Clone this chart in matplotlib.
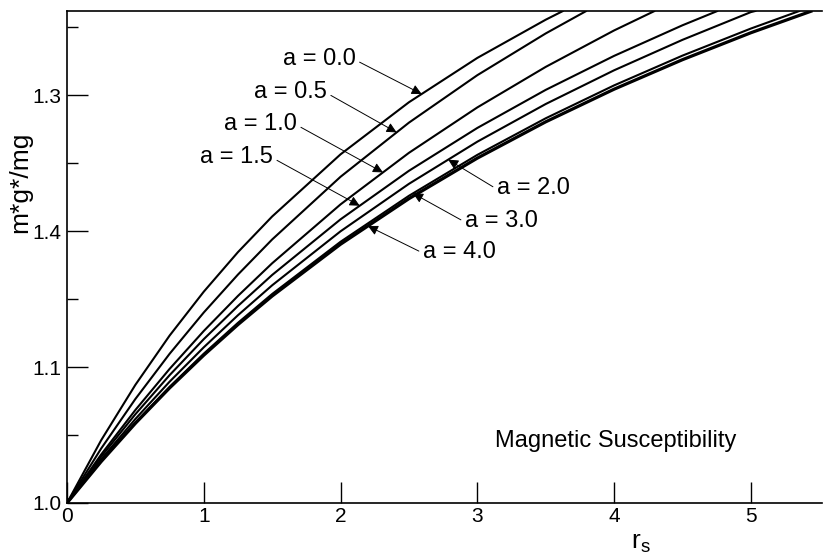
import numpy as np
import matplotlib
matplotlib.use("Agg")
import matplotlib.pyplot as plt
from matplotlib.ticker import MultipleLocator, FixedLocator, FixedFormatter

plt.rcParams['font.family'] = ['Liberation Sans', 'DejaVu Sans']
plt.rcParams['mathtext.default'] = 'regular'

# ---- data (r_s, m*g*/mg) ----
r_a00 = [0, 0.25, 0.5, 0.75, 1.0, 1.25, 1.5, 2.0, 2.5, 3.0, 3.5, 3.63]
m_a00 = [1.0, 1.0462, 1.0869, 1.1231, 1.1554, 1.1845, 1.2107, 1.2564, 1.2947, 1.3273, 1.3554, 1.362]

r_a05 = [0, 0.25, 0.5, 0.75, 1.0, 1.25, 1.5, 2.0, 2.5, 3.0, 3.5, 3.80]
m_a05 = [1.0, 1.0401, 1.0765, 1.1097, 1.1401, 1.1680, 1.1938, 1.2399, 1.2797, 1.3146, 1.3453, 1.362]

r_a10 = [0, 0.25, 0.5, 0.75, 1.0, 1.25, 1.5, 2.0, 2.5, 3.0, 3.5, 4.0, 4.30]
m_a10 = [1.0, 1.0357, 1.0684, 1.0986, 1.1265, 1.1523, 1.1763, 1.2196, 1.2575, 1.2909, 1.3207, 1.3475, 1.362]

r_a15 = [0, 0.25, 0.5, 0.75, 1.0, 1.25, 1.5, 2.0, 2.5, 3.0, 3.5, 4.0, 4.5, 4.76]
m_a15 = [1.0, 1.0341, 1.0653, 1.0940, 1.1205, 1.1449, 1.1677, 1.2086, 1.2443, 1.2758, 1.3038, 1.3288, 1.3513, 1.362]

r_a20 = [0, 0.25, 0.5, 0.75, 1.0, 1.25, 1.5, 2.0, 2.5, 3.0, 3.5, 4.0, 4.5, 5.0, 5.04]
m_a20 = [1.0, 1.0322, 1.0618, 1.0892, 1.1145, 1.1381, 1.1601, 1.1998, 1.2347, 1.2657, 1.2934, 1.3182, 1.3406, 1.3610, 1.362]

r_a30 = [0, 0.25, 0.5, 0.75, 1.0, 1.25, 1.5, 2.0, 2.5, 3.0, 3.5, 4.0, 4.5, 5.0, 5.36]
m_a30 = [1.0, 1.0308, 1.0592, 1.0854, 1.1098, 1.1325, 1.1537, 1.1921, 1.2259, 1.2560, 1.2829, 1.3071, 1.3290, 1.3489, 1.362]

r_a40 = [0, 0.25, 0.5, 0.75, 1.0, 1.25, 1.5, 2.0, 2.5, 3.0, 3.5, 4.0, 4.5, 5.0, 5.45]
m_a40 = [1.0, 1.0305, 1.0586, 1.0846, 1.1087, 1.1312, 1.1522, 1.1903, 1.2238, 1.2536, 1.2803, 1.3043, 1.3260, 1.3458, 1.362]

curve_labels = ["a = 0.0", "a = 0.5", "a = 1.0", "a = 1.5", "a = 2.0", "a = 3.0", "a = 4.0"]
arrow_r = [2.593, 2.41, 2.31, 2.14, 2.787, 2.53, 2.20]   # where each leader arrow meets its curve

x_ticks = [0, 1, 2, 3, 4, 5]
x_ticklabels = ["0", "1", "2", "3", "4", "5"]
y_ticks = [1.0, 1.1, 1.2, 1.3]
y_ticklabels = ["1.0", "1.1", "1.4", "1.3"]

# ---- figure ----
fig = plt.figure(figsize=(8.28, 5.56), dpi=100)
ax = fig.add_axes([67/828, 53/556, (822-67)/828, (503-11)/556])

curves = [(r_a00, m_a00), (r_a05, m_a05), (r_a10, m_a10), (r_a15, m_a15),
          (r_a20, m_a20), (r_a30, m_a30), (r_a40, m_a40)]
widths = [1.5, 1.5, 1.5, 1.5, 1.5, 1.5, 2.3]
for (r, m), lw in zip(curves, widths):
    ax.plot(r, m, color='black', lw=lw, solid_capstyle='butt', solid_joinstyle='round')

ax.set_xlim(0, 5.52)
ax.set_ylim(1.0, 1.3618)

ax.xaxis.set_major_locator(FixedLocator(x_ticks))
ax.xaxis.set_major_formatter(FixedFormatter(x_ticklabels))
ax.yaxis.set_major_locator(FixedLocator(y_ticks))
ax.yaxis.set_major_formatter(FixedFormatter(y_ticklabels))
ax.yaxis.set_minor_locator(MultipleLocator(0.05))

ax.tick_params(axis='both', which='major', direction='in', length=15, width=1.0,
               labelsize=15, pad=3, color='black')
ax.tick_params(axis='y', which='major', pad=4)
ax.tick_params(axis='y', which='minor', direction='in', length=8, width=1.0)
ax.tick_params(axis='x', which='minor', length=0)

for side in ['left', 'bottom', 'top']:
    ax.spines[side].set_linewidth(1.2)
ax.spines['right'].set_visible(False)

# label positions (text) in data coords
text_pos = [(2.11, 1.3265, 'right'), (1.90, 1.3022, 'right'), (1.681, 1.2787, 'right'),
            (1.506, 1.2544, 'right'), (3.143, 1.2316, 'left'), (2.909, 1.2074, 'left'),
            (2.602, 1.1846, 'left')]
for (r, m), lab, rt, (tx, ty, ha) in zip(curves, curve_labels, arrow_r, text_pos):
    tip_y = np.interp(rt, r, m)
    ax.annotate(lab, xy=(rt, tip_y), xytext=(tx, ty), ha=ha, va='center',
                fontsize=17,
                arrowprops=dict(arrowstyle='-|>', color='black', lw=0.7,
                                mutation_scale=15, shrinkA=1, shrinkB=0,
                                relpos=(1.0, 0.45) if ha == 'right' else (0.0, 0.45)))

ax.text(4.013, 1.0456, "Magnetic Susceptibility", ha='center', va='center', fontsize=17)

fig.text(20/828, 1 - 182/556, "m*g*/mg", rotation=90, ha='center', va='center', fontsize=19)
fig.text(641/828, 1 - 543/556, r"r$_s$", ha='center', va='center', fontsize=19)

fig.savefig("out.png", dpi=100)
